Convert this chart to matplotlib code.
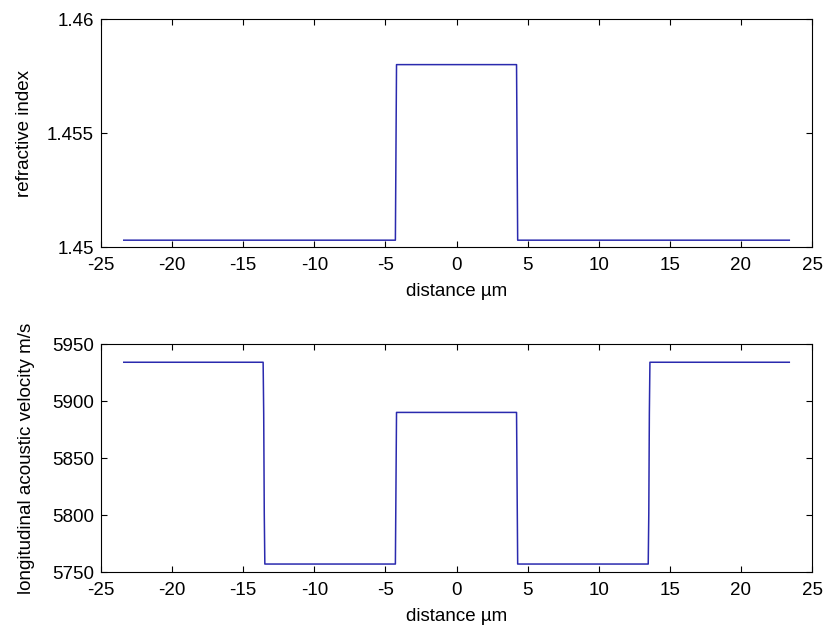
import matplotlib
matplotlib.use("Agg")
import matplotlib.pyplot as plt

# refractive index profile
x_n = [-23.4, -4.3, -4.26, -4.22, 4.22, 4.26, 4.3, 23.4]
n_vals = [1.4503, 1.4503, 1.45415, 1.458, 1.458, 1.45415, 1.4503, 1.4503]

# longitudinal acoustic velocity profile
x_v = [-23.4, -13.6, -13.56, -13.52, -13.48, -4.3, -4.26, -4.22,
       4.22, 4.26, 4.3, 13.48, 13.52, 13.56, 13.6, 23.4]
v_vals = [5934, 5934, 5889, 5801, 5757, 5757, 5823, 5890,
          5890, 5823, 5757, 5757, 5801, 5889, 5934, 5934]

x_ticks = [-25, -20, -15, -10, -5, 0, 5, 10, 15, 20, 25]
n_ticks = [1.45, 1.455, 1.46]
n_ticklabels = ['1.45', '1.455', '1.46']
v_ticks = [5750, 5800, 5850, 5900, 5950]

plt.rcParams['font.family'] = ['Liberation Sans', 'DejaVu Sans']
plt.rcParams['font.size'] = 13.5
plt.rcParams['axes.unicode_minus'] = False

fig = plt.figure(figsize=(8.26, 6.36), dpi=100)
ax1 = fig.add_axes([0.1223, 0.6116, 0.8608, 0.3585])
ax2 = fig.add_axes([0.1223, 0.1006, 0.8608, 0.3585])

line_color = '#2a2aae'


def style_axis(ax):
    ax.set_xlim(-25, 25)
    ax.set_xticks(x_ticks)
    ax.tick_params(direction='in', top=True, right=True, length=4.5,
                   width=0.8, labelsize=13.5)
    ax.tick_params(axis='x', pad=7)
    ax.tick_params(axis='y', pad=5)
    for sp in ax.spines.values():
        sp.set_linewidth(0.8)
    ax.set_xlabel('distance µm', fontsize=13.5, labelpad=7)


ax1.plot(x_n, n_vals, color=line_color, linewidth=1.1)
ax1.set_ylim(1.45, 1.46)
ax1.set_yticks(n_ticks)
ax1.set_yticklabels(n_ticklabels)
ax1.set_ylabel('refractive index', fontsize=13.5, labelpad=10)
style_axis(ax1)

ax2.plot(x_v, v_vals, color=line_color, linewidth=1.1)
ax2.set_ylim(5750, 5950)
ax2.set_yticks(v_ticks)
ax2.set_ylabel('longitudinal acoustic velocity m/s', fontsize=13.5, labelpad=12)
style_axis(ax2)

fig.savefig('out.png', dpi=100)
